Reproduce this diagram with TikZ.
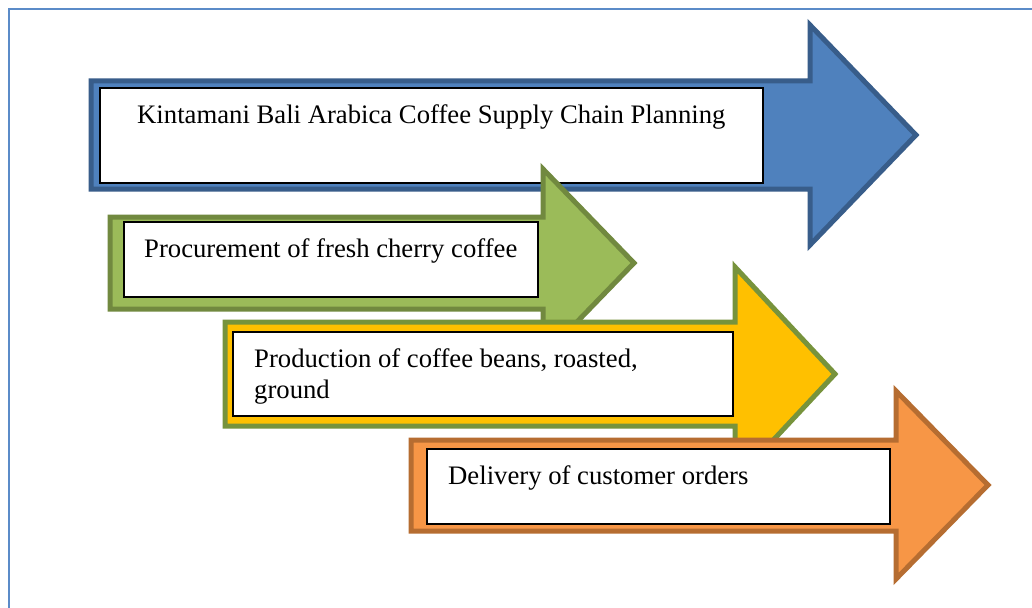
\documentclass[tikz,border=0pt]{standalone}
\usepackage{fontspec}
\setmainfont{Liberation Serif}
\definecolor{frameblue}{HTML}{5B8BC8}
\definecolor{bfill}{HTML}{4F81BD}
\definecolor{bline}{HTML}{385D8A}
\definecolor{gfill}{HTML}{9BBB59}
\definecolor{gline}{HTML}{71893F}
\definecolor{yfill}{HTML}{FFC000}
\definecolor{yline}{HTML}{77933C}
\definecolor{ofill}{HTML}{F79646}
\definecolor{oline}{HTML}{B66D31}
\begin{document}
\begin{tikzpicture}[x=1pt,y=-1pt,
  arrowshape/.style={line width=5pt, line join=miter, miter limit=10},
  whitebox/.style={draw=black, fill=white, line width=1.3pt},
  label/.style={anchor=base west, inner sep=0pt, font=\fontsize{26.7}{31}\selectfont}]
\useasboundingbox (0,0) rectangle (1032,607);
\fill[white] (0,0) rectangle (1032,607);
% frame
\draw[frameblue, line width=2pt] (9,620) -- (9,9) -- (1040,9);
% blue arrow
\draw[arrowshape, draw=bline, fill=bfill] (91,81) -- (810,81) -- (810,25) -- (916,135) -- (810,245) -- (810,189) -- (91,189) -- cycle;
\draw[whitebox] (100,88) rectangle (763,183);
\node[label] (t1) at (137,123) {Kintamani Bali Arabica Coffee Supply Chain Planning};
% green arrow
\draw[arrowshape, draw=gline, fill=gfill] (110,217) -- (543,217) -- (543,169) -- (634,263) -- (543,357) -- (543,309) -- (110,309) -- cycle;
\draw[whitebox] (124,222) rectangle (538,297);
\node[label] (t2) at (144,257) {Procurement of fresh cherry coffee};
% yellow arrow
\draw[arrowshape, draw=yline, fill=yfill] (225,322) -- (735,322) -- (735,267) -- (835,374) -- (735,481) -- (735,426) -- (225,426) -- cycle;
\draw[whitebox] (233,332) rectangle (733,416);
\node[label] (t3) at (254,367) {Production of coffee beans, roasted,};
\node[label] (t3b) at (254,398) {ground};
% orange arrow
\draw[arrowshape, draw=oline, fill=ofill] (411,440) -- (896,440) -- (896,391) -- (988,485) -- (896,579) -- (896,531) -- (411,531) -- cycle;
\draw[whitebox] (427,449) rectangle (890,524);
\node[label] (t4) at (448,484) {Delivery of customer orders};
\end{tikzpicture}
\end{document}
